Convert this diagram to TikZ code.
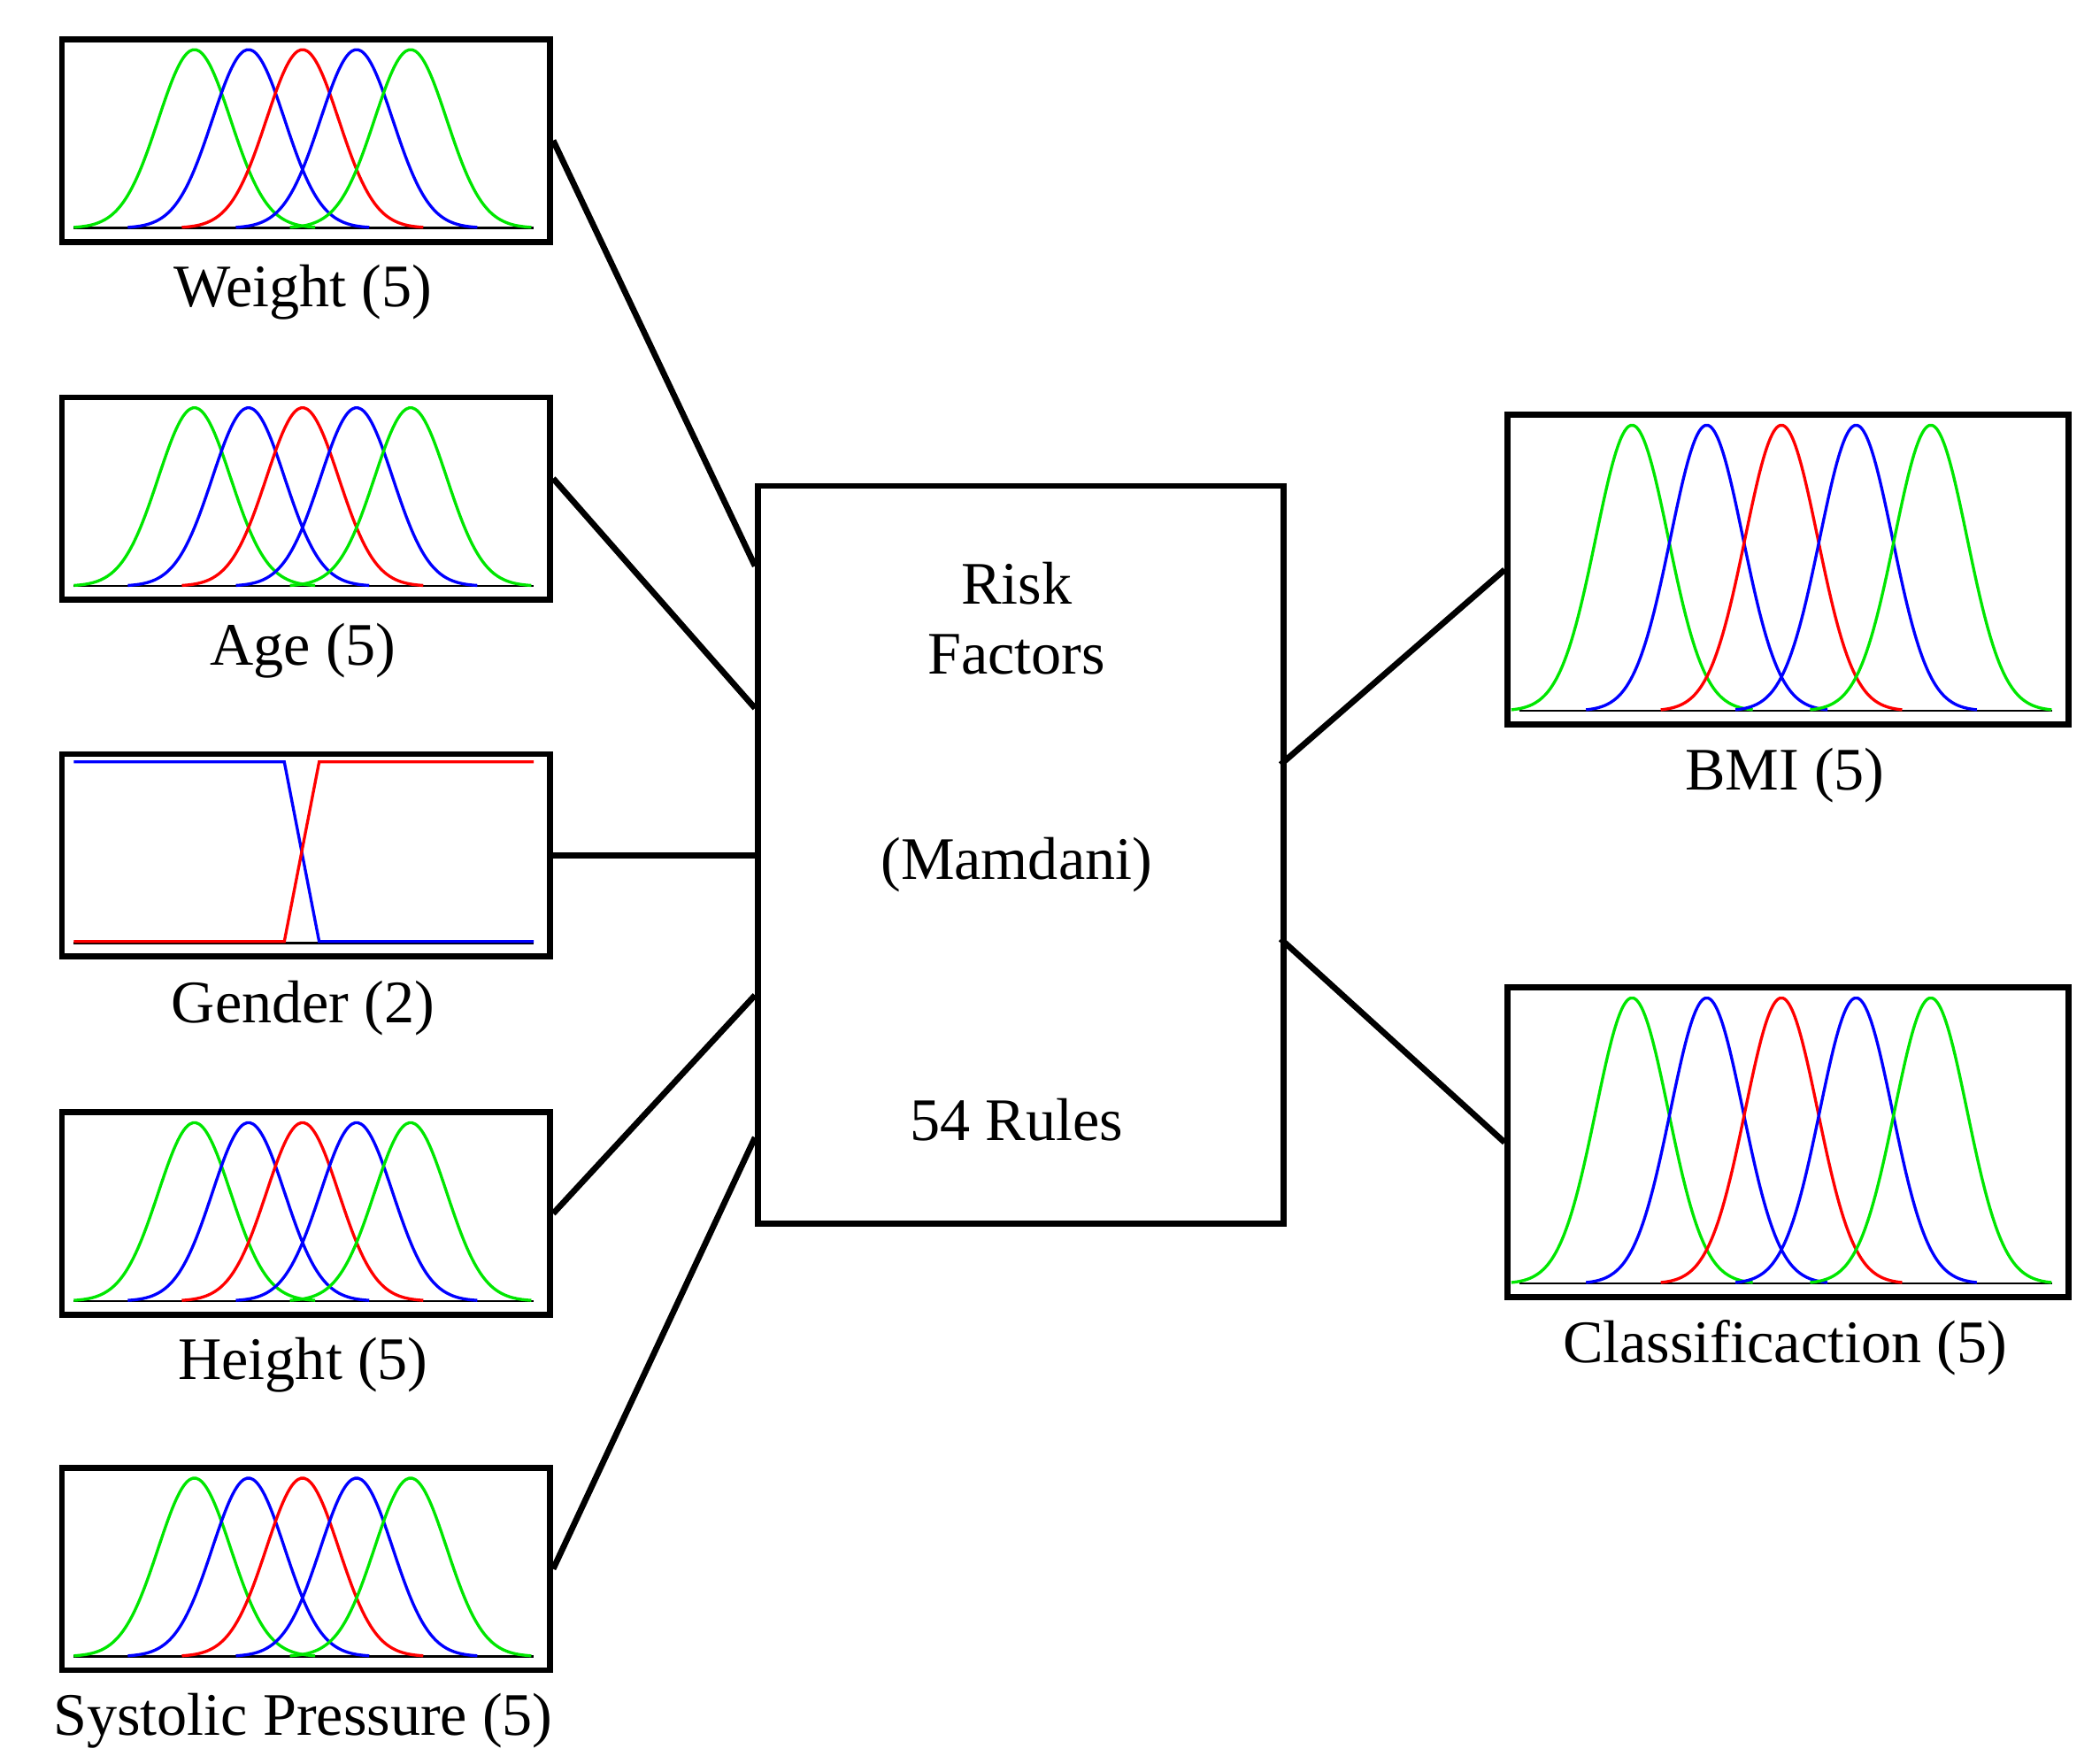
\documentclass[tikz,border=0pt]{standalone}
\usepackage{fontspec}
\setmainfont{Liberation Serif}
\begin{document}
\definecolor{gg}{RGB}{0,230,0}
\newcommand\mfbox[8]{% name,left,top,width,height,sigma,offs-first,step
  \node[box,minimum width=#4pt,minimum height=#5pt,anchor=north west] (#1) at (#2,#3) {};
  \draw[line width=1.6pt] (#2+11,#3+#5-8) -- (#2+#4-10,#3+#5-8);
  \foreach \k/\col in {0/gg,1/blue,2/red,3/blue,4/gg}{
    \pgfmathsetmacro\cc{#2+#7+\k*#8}
    \pgfmathsetmacro\bb{#3+#5-8}
    \pgfmathsetmacro\hh{#5-18}
    \draw[\col,line width=2.2pt] plot[domain=\cc-90:\cc+90,samples=80,smooth]
      (\x,{\bb-\hh*exp(-((\x-\cc)^2)/(2*#6*#6))});
  }
}
\begin{tikzpicture}[x=1pt,y=-1pt,
  box/.style={draw,line width=4.5pt,inner sep=0pt},
  lab/.style={font=\fontsize{45}{52}\selectfont},
  con/.style={line width=4.5pt}]
\useasboundingbox (0,0) rectangle (1560,1315);
\mfbox{w}{44}{27}{364}{151}{27}{101}{40.3}
\mfbox{a}{44}{294}{364}{151}{27}{101}{40.3}
\mfbox{h}{44}{827}{364}{151}{27}{101}{40.3}
\mfbox{s}{44}{1092}{364}{151}{27}{101}{40.3}
\node[box,minimum width=364pt,minimum height=151pt,anchor=north west] (g) at (44,560) {};
\draw[line width=1.6pt] (55,703) -- (398,703);
\draw[blue,line width=2.2pt] (55,568) -- (212,568) -- (238,702) -- (398,702);
\draw[red,line width=2.2pt] (55,702) -- (212,702) -- (238,568) -- (398,568);
\mfbox{bmi}{1122}{307}{418}{231}{27}{95}{55.7}
\mfbox{cl}{1122}{734}{418}{231}{27}{95}{55.7}
\node[box,minimum width=392pt,minimum height=550pt,anchor=north west] (c) at (563,360) {};
\node[lab] (t1) at (758,435) {Risk};
\node[lab] (t2) at (758,488) {Factors};
\node[lab] (t3) at (758,645) {(Mamdani)};
\node[lab] (t4) at (758,835) {54 Rules};
\node[lab] (lw) at (226,218) {Weight (5)};
\node[lab] (la) at (226,485) {Age (5)};
\node[lab] (lg) at (226,752) {Gender (2)};
\node[lab] (lh) at (226,1018) {Height (5)};
\node[lab] (ls) at (226,1283) {Systolic Pressure (5)};
\node[lab] (lb) at (1331,578) {BMI (5)};
\node[lab] (lc) at (1331,1005) {Classificaction (5)};
\coordinate (c1) at (563,422);\coordinate (c2) at (563,528);
\coordinate (c4) at (563,742);
\coordinate (c5) at (563,848);
\coordinate (r1) at (955,570);\coordinate (r2) at (955,700);
\draw[con] (w.east) -- (c1);
\draw[con] (a.east) ++(0,-15) -- (c2);
\draw[con] (g.east) -- (g.east -| c.west);
\draw[con] (h.east) -- (c4);
\draw[con] (s.east) -- (c5);
\draw[con] (r1) -- (bmi.west);
\draw[con] (r2) -- (cl.west);
\end{tikzpicture}
\end{document}
